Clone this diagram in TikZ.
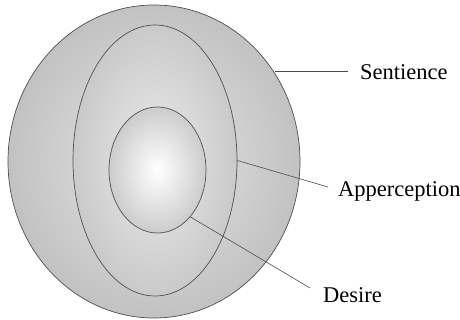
\documentclass[tikz,border=0pt]{standalone}
\usepackage{fontspec}
\setmainfont{Liberation Serif}
\usetikzlibrary{shapes.geometric}
\definecolor{rimline}{HTML}{505050}
\pgfdeclareradialshading{outershade}{\pgfpoint{0bp}{0bp}}{color(0bp)=(black!10); color(25bp)=(black!24); color(50bp)=(black!24)}
\pgfdeclareradialshading{middleshade}{\pgfpoint{0bp}{0bp}}{color(0bp)=(black!8); color(25bp)=(black!21); color(50bp)=(black!21)}
\pgfdeclareradialshading{innershade}{\pgfpoint{0bp}{0bp}}{color(0bp)=(white); color(25bp)=(black!20); color(50bp)=(black!20)}
\tikzset{
  ring/.style={ellipse, draw=rimline, line width=0.7pt, inner sep=0pt},
  label text/.style={font=\fontsize{22.5}{24}\selectfont, inner sep=0pt, anchor=base west},
  leader/.style={draw=black!70, line width=0.6pt}
}
\begin{document}
\begin{tikzpicture}[x=1pt,y=-1pt]
\useasboundingbox (0,0) rectangle (460,320);
\node[ring, shading=outershade, minimum width=292pt, minimum height=313pt] (outer) at (154,161.5) {};
\node[ring, shading=middleshade, minimum width=164pt, minimum height=271pt] (middle) at (155,160.5) {};
\node[ring, shading=innershade, minimum width=97pt, minimum height=126pt] (inner) at (157.5,170) {};
\node[label text] (sent) at (360,80) {Sentience};
\node[label text] (apper) at (338,197) {Apperception};
\node[label text] (desire) at (323,302) {Desire};
\coordinate (sentstart) at (275,71);
\coordinate (sentend) at (348,71);
\coordinate (apperend) at (328,187);
\coordinate (desireend) at (310,288);
\draw[leader] (sentstart) -- (sentend);
\draw[leader] (middle.east) -- (apperend);
\draw[leader] (inner.-55.3) -- (desireend);
\end{tikzpicture}
\end{document}
